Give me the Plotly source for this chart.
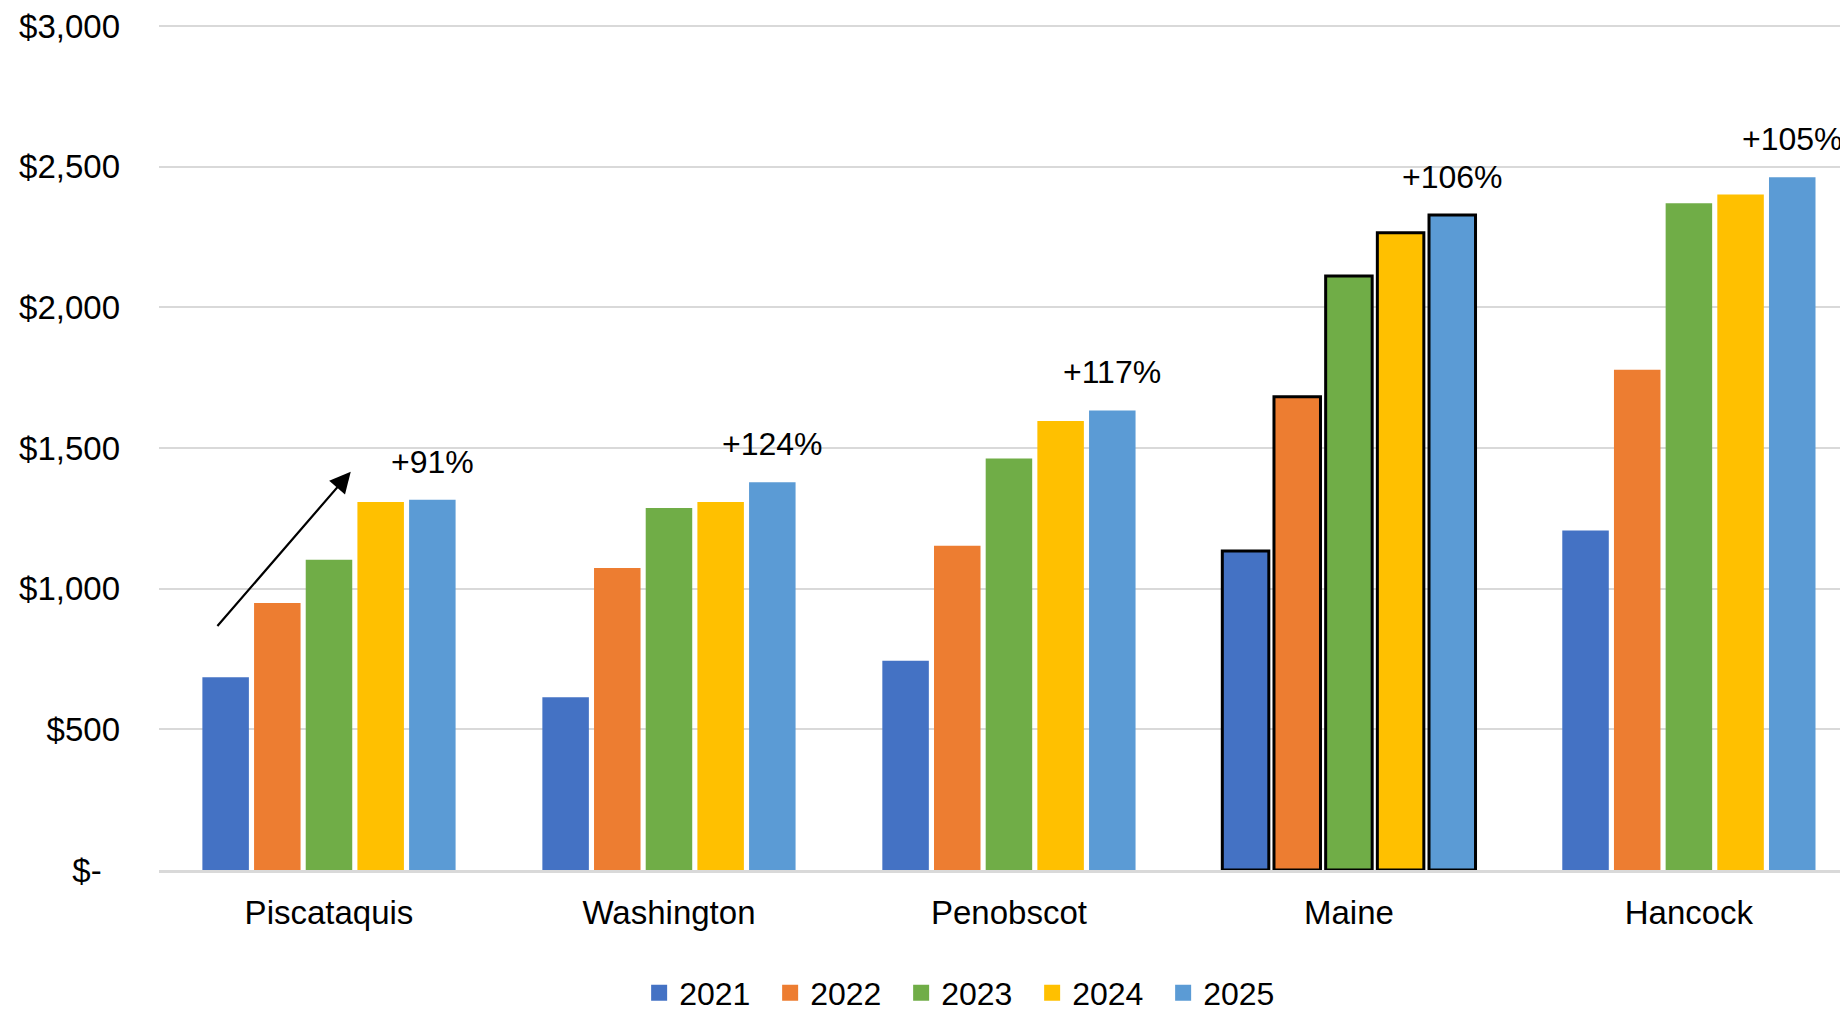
import plotly.graph_objects as go

categories = ["Piscataquis", "Washington", "Penobscot", "Maine", "Hancock"]
years = ["2021", "2022", "2023", "2024", "2025"]
v2021 = [685, 614, 744, 1134, 1207]
v2022 = [949, 1074, 1153, 1683, 1779]
v2023 = [1103, 1287, 1463, 2112, 2371]
v2024 = [1308, 1308, 1596, 2266, 2402]
v2025 = [1316, 1379, 1634, 2329, 2463]
growth_labels = ["+91%", "+124%", "+117%", "+106%", "+105%"]
highlight = "Maine"
colors = ["#4472C4", "#ED7D31", "#70AD47", "#FFC000", "#5B9BD5"]
ytick_vals = [0, 500, 1000, 1500, 2000, 2500, 3000]
ytick_text = ["$-\u00a0\u00a0", "$500", "$1,000", "$1,500", "$2,000", "$2,500", "$3,000"]

FONT = "Liberation Sans, Arial, sans-serif"
series = [v2021, v2022, v2023, v2024, v2025]

fig = go.Figure()
for yr, vals, col in zip(years, series, colors):
    lw = [3 if c == highlight else 0 for c in categories]
    fig.add_trace(go.Bar(
        x=categories, y=vals, name=yr, showlegend=False,
        marker=dict(color=col, line=dict(color="black", width=lw)),
    ))
# legend entries (square swatches)
for yr, col in zip(years, colors):
    fig.add_trace(go.Scatter(
        x=[None], y=[None], name=yr, mode="markers",
        marker=dict(symbol="square", size=20, color=col),
    ))

# growth labels above 2025 bars
ngroups = len(years)
bargap = 0.24
slot = (1 - bargap) / ngroups
offset_last = (ngroups - 1 - (ngroups - 1) / 2) * slot
for i, (lab, top) in enumerate(zip(growth_labels, v2025)):
    fig.add_annotation(x=i + offset_last, y=top, xref="x", yref="y",
                       text=lab, showarrow=False, yanchor="bottom", yshift=18,
                       font=dict(family=FONT, size=32, color="black"))

# trend arrow
arrow_start = (-0.332, 862)
arrow_end = (0.064, 1416)
fig.add_annotation(x=arrow_end[0], y=arrow_end[1], ax=arrow_start[0], ay=arrow_start[1],
                   xref="x", yref="y", axref="x", ayref="y", text="",
                   showarrow=True, arrowhead=2, arrowsize=1.9, arrowwidth=2.2,
                   arrowcolor="black")

fig.update_layout(
    width=1840, height=1002,
    margin=dict(l=151, r=0, t=12, b=140),
    paper_bgcolor="white", plot_bgcolor="white",
    barmode="group", bargap=bargap, bargroupgap=0.1,
    font=dict(family=FONT, size=32, color="black"),
    legend=dict(orientation="h", xref="container", yref="container",
                x=0.521, xanchor="center", y=0.017, yanchor="middle",
                font=dict(size=32), entrywidth=86, traceorder="normal",
                itemsizing="trace"),
    showlegend=True,
)
fig.update_xaxes(range=[-0.5, 4.468], showgrid=False, showline=True,
                 linecolor="#d9d9d9", linewidth=3,
                 ticks="", tickfont=dict(size=33), ticklabelstandoff=11)
fig.update_yaxes(range=[0, 3015], tickvals=ytick_vals, ticktext=ytick_text,
                 showgrid=True, gridcolor="#d9d9d9", gridwidth=2,
                 zeroline=False, showline=False, ticks="",
                 tickfont=dict(size=33), ticklabelstandoff=38,
                 ticklabeloverflow="allow")

fig.write_html("out.html")
